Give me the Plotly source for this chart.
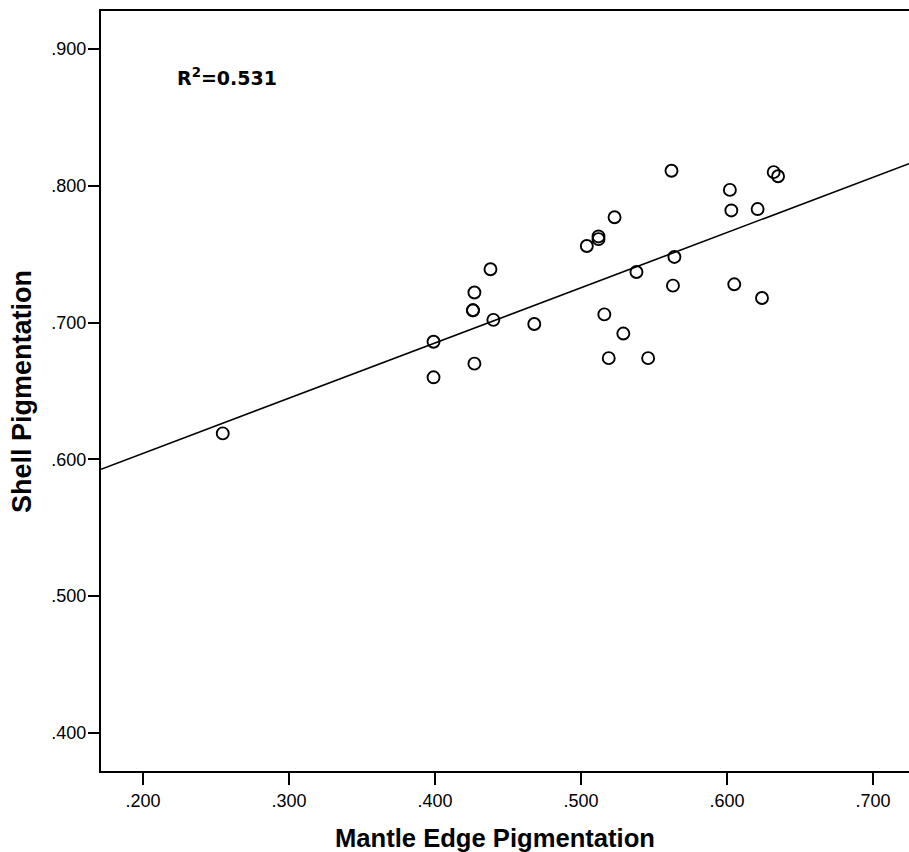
import numpy as np
import plotly.graph_objects as go

# Data
mantle_edge = [0.562, 0.632, 0.635, 0.602, 0.603, 0.621, 0.523, 0.512, 0.512, 0.504,
               0.438, 0.427, 0.426, 0.426, 0.440, 0.468, 0.399, 0.427, 0.399, 0.538,
               0.564, 0.563, 0.605, 0.624, 0.516, 0.529, 0.519, 0.546, 0.2546]
shell = [0.811, 0.810, 0.807, 0.797, 0.782, 0.783, 0.777, 0.763, 0.761, 0.756,
         0.739, 0.722, 0.709, 0.709, 0.702, 0.699, 0.686, 0.670, 0.660, 0.737,
         0.748, 0.727, 0.728, 0.718, 0.706, 0.692, 0.674, 0.674, 0.619]
x_ticks = [0.2, 0.3, 0.4, 0.5, 0.6, 0.7]
x_tick_labels = [".200", ".300", ".400", ".500", ".600", ".700"]
y_ticks = [0.4, 0.5, 0.6, 0.7, 0.8, 0.9]
y_tick_labels = [".400", ".500", ".600", ".700", ".800", ".900"]
r2_label = "R<sup>2</sup>=0.531"
x_title = "Mantle Edge Pigmentation"
y_title = "Shell Pigmentation"

x_range = [0.1712, 0.7247]
y_range = [0.3722, 0.9278]

slope, intercept = np.polyfit(mantle_edge, shell, 1)
fit_x = np.array(x_range)
fit_y = intercept + slope * fit_x

fig = go.Figure()
fig.add_trace(go.Scatter(x=fit_x, y=fit_y, mode="lines",
                         line=dict(color="black", width=1.6), hoverinfo="skip"))
fig.add_trace(go.Scatter(x=mantle_edge, y=shell, mode="markers",
                         marker=dict(symbol="circle-open", size=12, color="black",
                                     line=dict(width=1.9, color="black"))))

fig.add_annotation(x=0.2219, y=0.8797, xref="x", yref="y", text=r2_label,
                   showarrow=False, xanchor="left", yanchor="middle",
                   font=dict(family="DejaVu Sans", size=19, color="black", weight="bold"))
fig.add_annotation(x=0.4876, y=-0.0882, xref="paper", yref="paper", text=x_title,
                   showarrow=False, xanchor="center", yanchor="middle",
                   font=dict(family="Liberation Sans", size=25.6, color="black", weight="bold"))
fig.add_annotation(x=-0.0978, y=0.5, xref="paper", yref="paper", text=y_title,
                   showarrow=False, xanchor="center", yanchor="middle", textangle=-90,
                   font=dict(family="Liberation Sans", size=27, color="black", weight="bold"))

fig.update_layout(
    width=909, height=852,
    margin=dict(l=101, r=0, t=11, b=81),
    plot_bgcolor="white", paper_bgcolor="white",
    showlegend=False,
    font=dict(family="Liberation Sans", color="black"),
)
fig.update_xaxes(range=x_range, tickvals=x_ticks, ticktext=x_tick_labels,
                 showgrid=False, zeroline=False, showline=True, linecolor="black",
                 linewidth=2, mirror=True, ticks="outside", ticklen=12, tickwidth=2,
                 tickcolor="black", tickfont=dict(size=18, family="Liberation Sans"))
fig.update_yaxes(range=y_range, tickvals=y_ticks, ticktext=y_tick_labels,
                 showgrid=False, zeroline=False, showline=True, linecolor="black",
                 linewidth=2, ticks="outside", ticklen=11, tickwidth=2,
                 tickcolor="black", tickfont=dict(size=18, family="Liberation Sans"),
                 ticklabelstandoff=-2)

fig.write_html("out.html", config={"displayModeBar": False},
               post_script="document.body.style.margin='0';document.body.style.overflow='hidden';")
